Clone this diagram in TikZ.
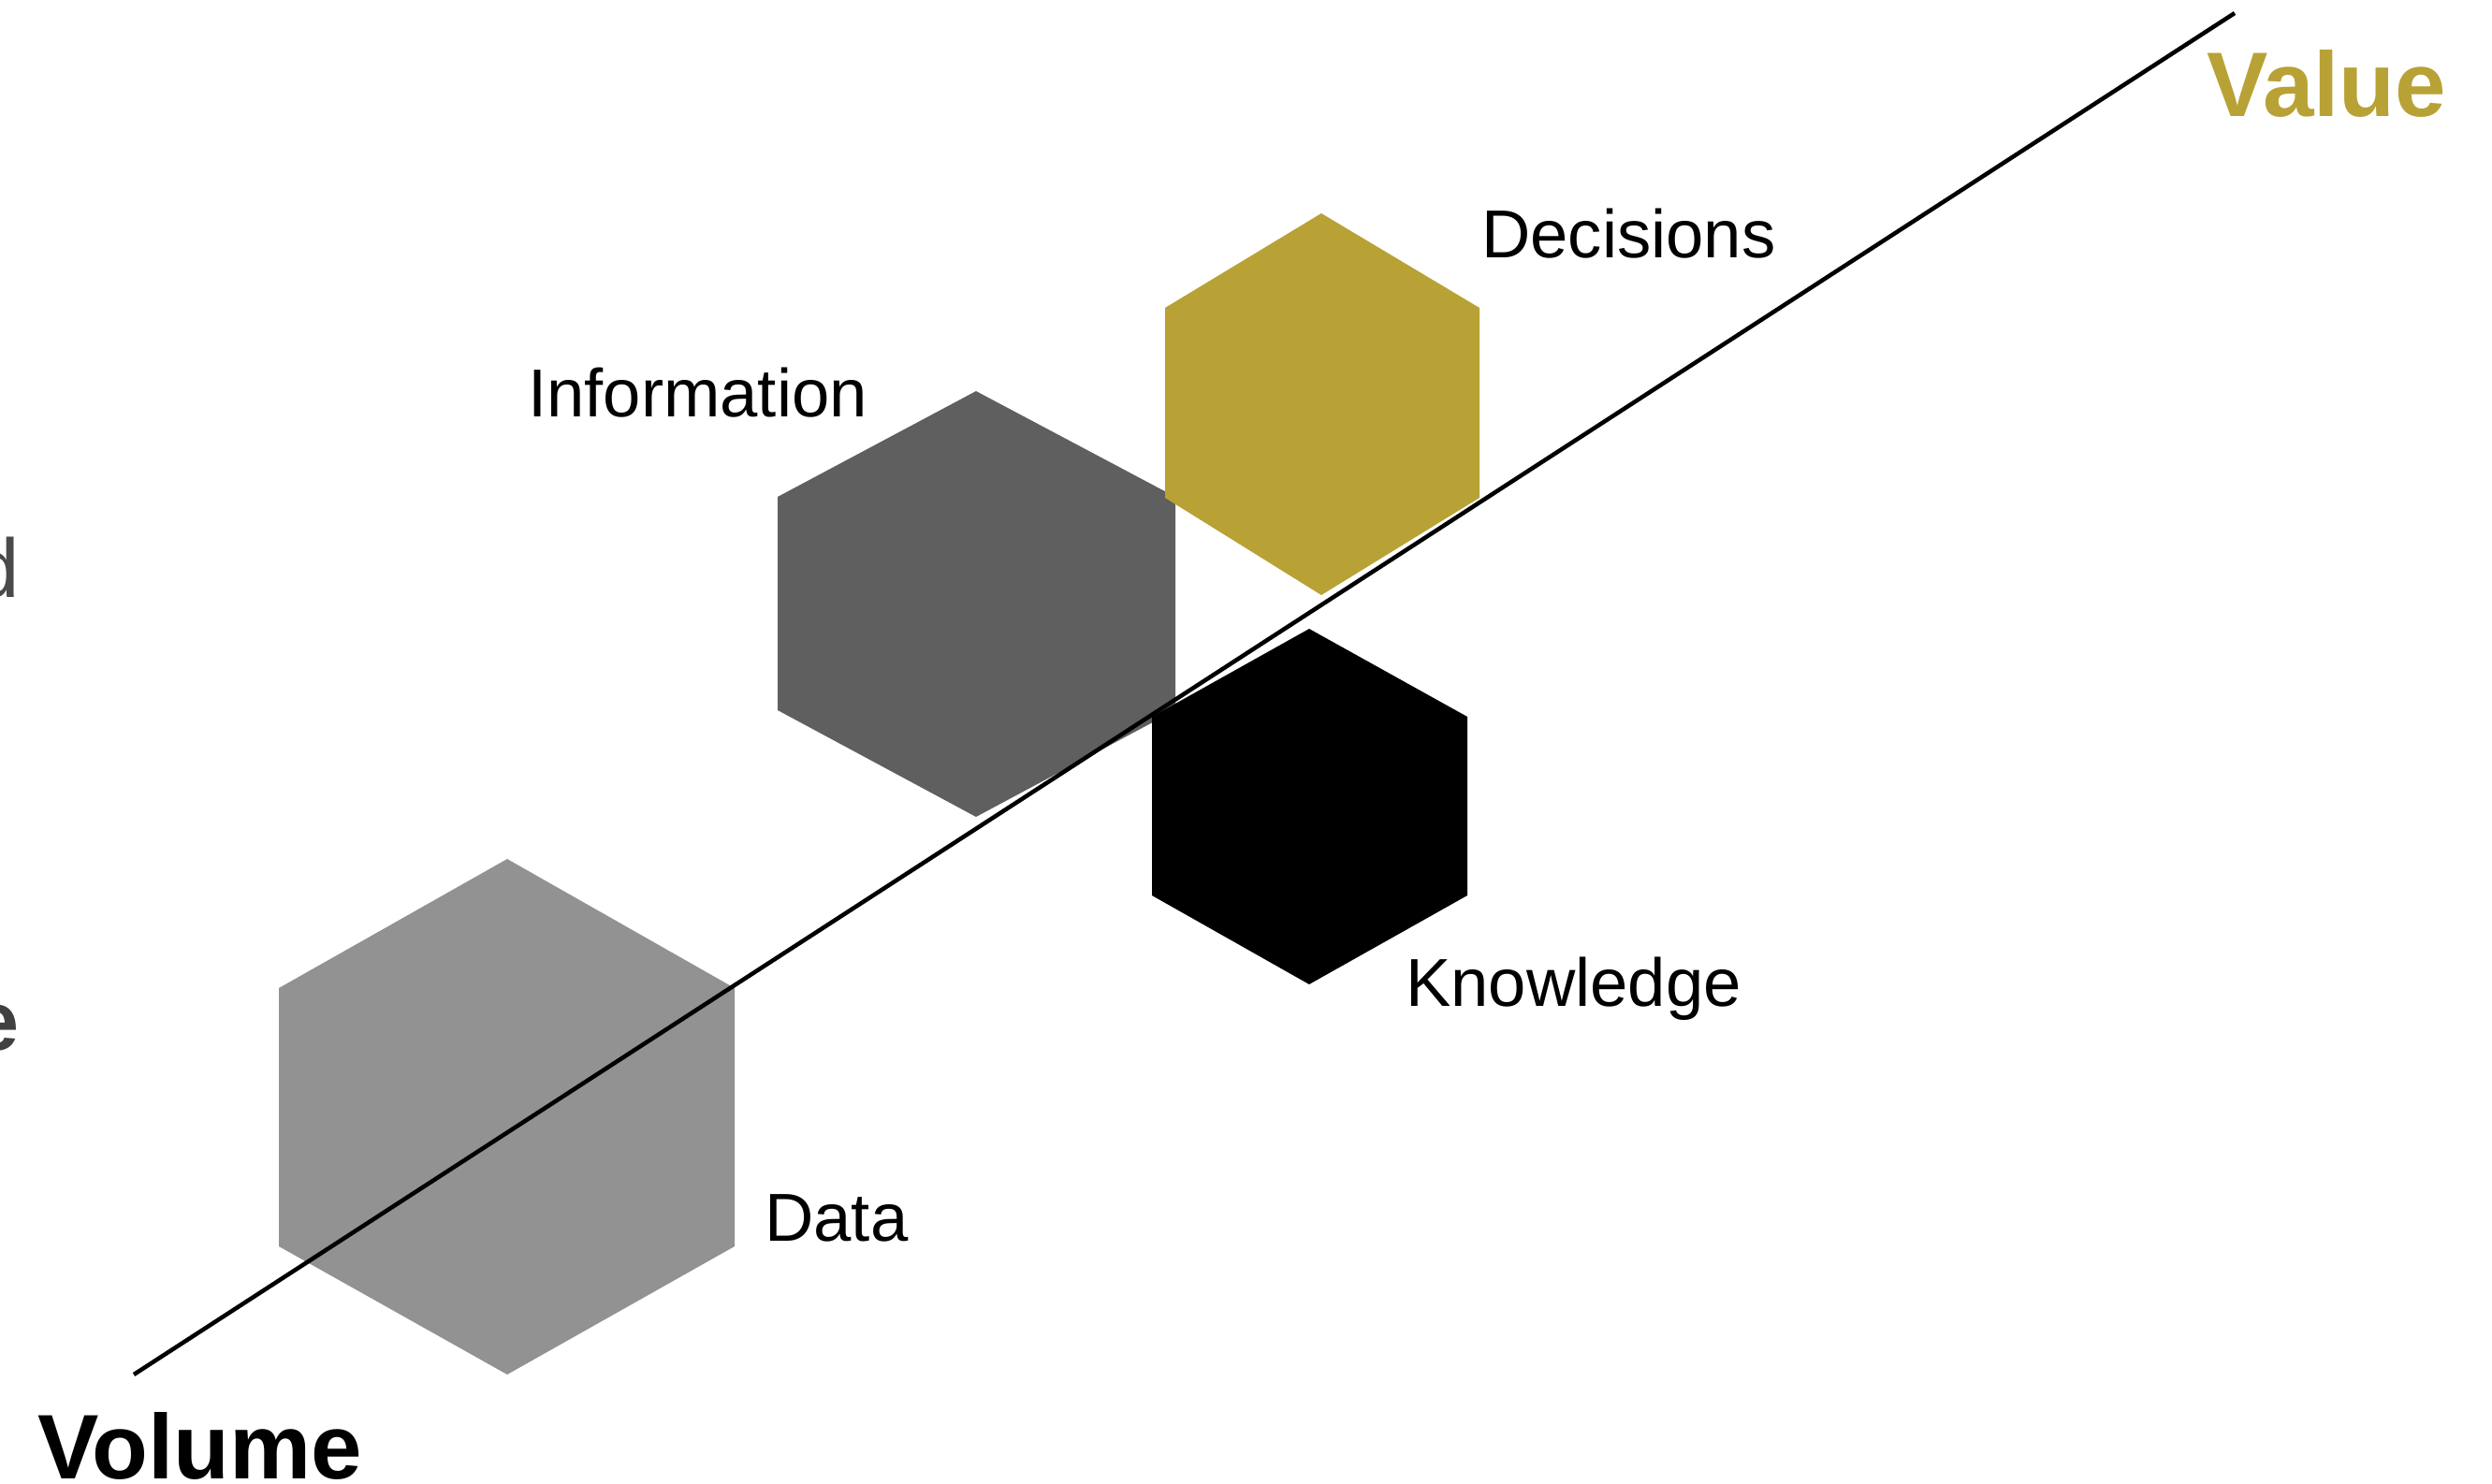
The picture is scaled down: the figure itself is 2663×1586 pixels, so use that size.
\documentclass[tikz,border=0pt]{standalone}
\usepackage{fontspec}
\setmainfont{Liberation Sans}
\definecolor{gold}{RGB}{184,162,54}
\definecolor{datagray}{RGB}{146,146,146}
\definecolor{infogray}{RGB}{95,95,95}
\definecolor{thingray}{RGB}{74,74,74}
\definecolor{darkgray}{RGB}{64,64,64}
\begin{document}
\begin{tikzpicture}[x=1pt,y=-1pt,
  tag/.style={anchor=base west,inner sep=0pt,font=\fontsize{72.5}{80}\selectfont},
  axislabel/.style={anchor=base west,inner sep=0pt,font=\fontsize{98}{110}\selectfont\bfseries},
  trend/.style={line width=4.5pt}]
\useasboundingbox (0,0) rectangle (2663,1586);
\fill[white] (0,0) rectangle (2663,1586);

% hexagons, back to front
\fill[datagray] (542,918) -- (785,1056) -- (785,1332) -- (542,1469) -- (298,1332) -- (298,1056) -- cycle;
\fill[infogray] (1043,418) -- (1256,531) -- (1256,759) -- (1043,873) -- (831,759) -- (831,531) -- cycle;
\fill[gold] (1412,228) -- (1581,329) -- (1581,532) -- (1412,636) -- (1245,532) -- (1245,329) -- cycle;
\fill[black] (1399,672) -- (1568,766) -- (1568,957) -- (1399,1052) -- (1231,957) -- (1231,766) -- cycle;

% trend line from volume to value
\coordinate (lo) at (143,1469);
\coordinate (hi) at (2388,14);
\draw[trend] (lo) -- (hi);

% labels
\node[tag] (decisions) at (1583,276) {Decisions};
\node[tag] (information) at (564,445) {Information};
\node[tag] (knowledge) at (1502,1075) {Knowledge};
\node[tag] (data) at (817,1326) {Data};
\node[axislabel,text=gold] (value) at (2358,125) {Value};
\node[axislabel,text=black] (volume) at (40,1580) {Volume};

% word endings running in from the left edge
\node[anchor=base west,inner sep=0pt,text=thingray,font=\fontsize{89}{100}\selectfont] (dend) at (-29,638) {d};
\node[anchor=base west,inner sep=0pt,text=darkgray,font=\fontsize{90}{100}\selectfont\bfseries] (eend) at (-30,1122) {e};
\end{tikzpicture}
\end{document}
